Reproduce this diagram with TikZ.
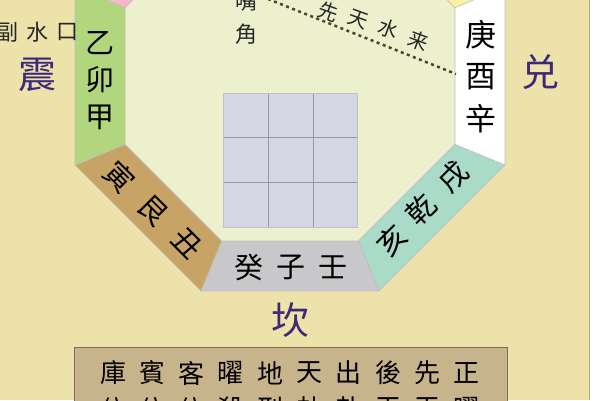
\documentclass[tikz,border=0pt]{standalone}
\usepackage{fontspec}
\newfontfamily\cjk{Noto Sans CJK TC}
\usepackage{tikz}
\usetikzlibrary{calc,positioning}
\definecolor{outerBg}{RGB}{236,226,170}
\definecolor{innerBg}{RGB}{237,240,205}
\definecolor{bandGreen}{RGB}{178,214,126}
\definecolor{bandBrown}{RGB}{199,164,102}
\definecolor{bandGray}{RGB}{200,200,203}
\definecolor{bandTeal}{RGB}{170,219,200}
\definecolor{bandPink}{RGB}{244,184,200}
\definecolor{bandYellow}{RGB}{250,242,160}
\definecolor{gridFill}{RGB}{212,214,228}
\definecolor{gridLine}{RGB}{150,152,168}
\definecolor{boxFill}{RGB}{200,180,140}
\definecolor{boxLine}{RGB}{125,110,80}
\definecolor{trigram}{RGB}{62,40,122}
\definecolor{dashCol}{RGB}{70,70,50}
\tikzstyle{stem} = [font=\cjk\fontsize{29}{29}\selectfont, inner sep=0pt, text=black]
\tikzstyle{gua} = [font=\cjk\fontsize{38}{38}\selectfont, inner sep=0pt, text=trigram]
\tikzstyle{note} = [font=\cjk\fontsize{22}{22}\selectfont, inner sep=0pt, text=black!85]
\tikzstyle{cell} = [font=\cjk\fontsize{26}{26}\selectfont, inner sep=0pt, text=black]
\tikzset{
	band/.style = {draw=black!25, line width=0.6pt},
	waterline/.style = {draw=dashCol, line width=2.5pt, dash pattern=on 3pt off 3.5pt}
}

\begin{document}
\begin{tikzpicture}[x=1pt, y=-1pt, node distance=37pt]
\useasboundingbox (0,0) rectangle (600,400);
\clip (0,0) rectangle (600,400);
%----------------------------------------------------------------------------
% Background and octagon
\fill[outerBg] (0,0) rectangle (590,400);
\fill[white] (590,0) rectangle (600,400);
\draw[outerBg!75!black, line width=0.6pt] (589.5,0) -- (589.5,400);

\coordinate (ctr) at (290,76);
\foreach \k in {0,...,7} {
	\coordinate (o\k) at ($(ctr)+(22.5+45*\k:232.7)$);
	\coordinate (i\k) at ($(ctr)+(22.5+45*\k:178.6)$);
}
\fill[innerBg] (i0) -- (i1) -- (i2) -- (i3) -- (i4) -- (i5) -- (i6) -- (i7) -- cycle;

\foreach \k/\col in {0/bandTeal,1/bandGray,2/bandBrown,3/bandGreen,4/bandPink,6/bandYellow,7/white} {
	\pgfmathtruncatemacro\n{mod(\k+1,8)}
	\filldraw[band, fill=\col] (o\k) -- (o\n) -- (i\n) -- (i\k) -- cycle;
}

%----------------------------------------------------------------------------
% Centre grid
\fill[gridFill] (223,93) rectangle (357,227);
\foreach \t in {268,313} {
	\draw[gridLine, line width=1pt] (\t,93) -- (\t,227);
	\draw[gridLine, line width=1pt] (223,\t-131) -- (357,\t-131);
}
\draw[gridLine!60, line width=1pt] (223,93) rectangle (357,227);

%----------------------------------------------------------------------------
% Stems in the bands
\node (yiStem) [stem] at (100,43) {乙};
\node (maoStem) [stem, below of = yiStem] {卯};
\node (jiaStem) [stem, below of = maoStem] {甲};

\node (gengStem) [stem, font=\cjk\fontsize{31}{31}\selectfont] at (481,35) {庚};
\node (youStem) [stem, font=\cjk\fontsize{31}{31}\selectfont, below of = gengStem, node distance=42pt] {酉};
\node (xinStem) [stem, font=\cjk\fontsize{31}{31}\selectfont, below of = youStem, node distance=42pt] {辛};

\node (yinStem) [stem, rotate=-45] at (120,177) {寅};
\node (genStem) [stem, rotate=-45] at (153,211) {艮};
\node (chouStem) [stem, rotate=-45] at (187,243) {丑};

\node (xuStem) [stem, rotate=45] at (453,177) {戌};
\node (qianStem) [stem, rotate=45] at (421,209) {乾};
\node (haiStem) [stem, rotate=45] at (392,240) {亥};

\node (guiStem) [stem] at (249,267) {癸};
\node (ziStem) [stem, right of = guiStem, node distance=42pt] {子};
\node (renStem) [stem, right of = ziStem, node distance=42pt] {壬};

%----------------------------------------------------------------------------
% Trigram names and notes
\node (zhenGua) [gua] at (38,75) {震};
\node (duiGua) [gua] at (540,72) {兑};
\node (kanGua) [gua] at (290,320) {坎};

\node (fuNote) [note] at (8,32) {副};
\node (shuiNote) [note] at (38,32) {水};
\node (kouNote) [note] at (67,32) {口};

\node (zuiNote) [note] at (246,1) {嘴};
\node (jiaoNote) [note, below of = zuiNote, node distance=33pt] {角};

%----------------------------------------------------------------------------
% Water line
\coordinate (waterStart) at (268,-1);
\coordinate (waterEnd) at (456,74);
\draw [waterline] (waterStart) -- (waterEnd);
\node (xianWater) [note, font=\cjk\fontsize{20}{20}\selectfont, rotate=-20] at (328,12) {先};
\node (tianWater) [note, font=\cjk\fontsize{20}{20}\selectfont, rotate=-20] at (358,19) {天};
\node (shuiWater) [note, font=\cjk\fontsize{20}{20}\selectfont, rotate=-20] at (388,29) {水};
\node (laiWater) [note, font=\cjk\fontsize{20}{20}\selectfont, rotate=-20] at (418,41) {来};

%----------------------------------------------------------------------------
% Table at the foot
\node (tableBox) [draw=boxLine, fill=boxFill, line width=1.6pt, anchor=north west,
	minimum width=433pt, minimum height=100pt, inner sep=0pt] at (73.5,346.5) {};
\foreach \c [count=\i] in {庫,賓,客,曜,地,天,出,後,先,正}
	\node (topCell\i) [cell] at (113+39.33*\i-39.33,373) {\c};
\foreach \c [count=\i] in {位,位,位,殺,刑,劫,卦,天,天,曜}
	\node (lowCell\i) [cell] at (113+39.33*\i-39.33,409) {\c};
\end{tikzpicture}
\end{document}
